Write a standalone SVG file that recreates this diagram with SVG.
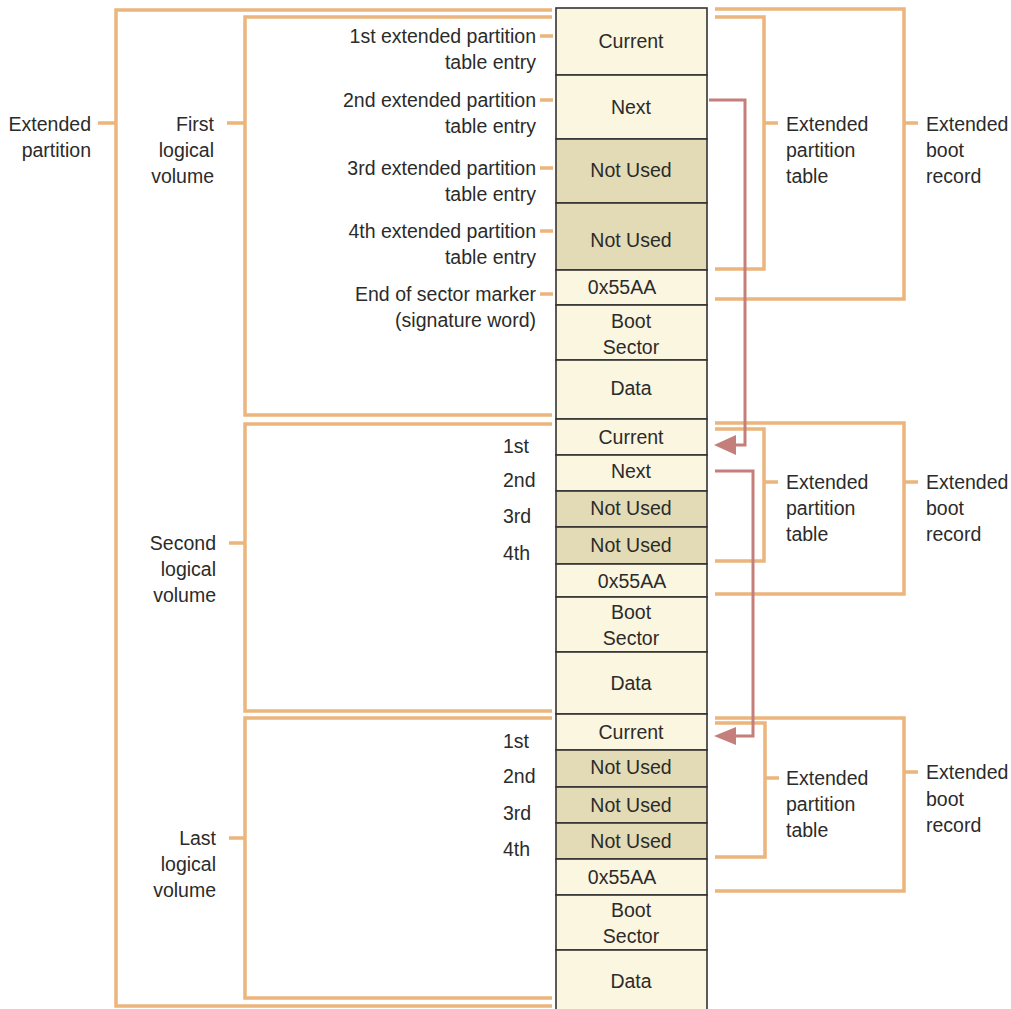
<svg xmlns="http://www.w3.org/2000/svg" width="1011" height="1009" viewBox="0 0 1011 1009">
<style>
text{font-family:"Liberation Sans",Arial,sans-serif;font-size:19.5px;fill:#2b2b2b}
.c{text-anchor:middle}
.r{text-anchor:end}
.cell{fill:#fbf6df;stroke:#333;stroke-width:1.6}
.dk{fill:#e3dbb5;stroke:#333;stroke-width:1.6}
.br{fill:none;stroke:#ebb57c;stroke-width:3.5}
.ar{fill:none;stroke:#c47f7a;stroke-width:3}
.ah{fill:#c47f7a}
</style>
<rect width="1011" height="1009" fill="#fff"/>

<g id="brackets-left">
<path class="br" d="M552,10 H116 V1006 H552 M98,123 H116"/>
<path class="br" d="M552,17 H245 V415 H552 M227,123 H245"/>
<path class="br" d="M552,424 H245 V711 H552 M229,543 H245"/>
<path class="br" d="M552,718 H245 V998 H552 M229,838 H245"/>
<path class="br" d="M540,36 H553 M540,100 H553 M540,168 H553 M540,231 H553 M540,294 H553"/>
</g>

<g id="brackets-right">
<path class="br" d="M715,9 H904 V299 H715 M904,123 H918"/>
<path class="br" d="M715,17 H764 V269 H715 M764,123 H778"/>
<path class="br" d="M715,423 H904 V594 H715 M904,482 H918"/>
<path class="br" d="M715,429 H764 V561 H715 M764,482 H778"/>
<path class="br" d="M715,718 H904 V891 H715 M904,772 H918"/>
<path class="br" d="M715,723 H765 V857 H715 M765,778 H779"/>
</g>

<g id="column">
<g id="v1">
<rect class="cell" x="556" y="8" width="151" height="67"/>
<rect class="cell" x="556" y="75" width="151" height="64"/>
<rect class="dk" x="556" y="139" width="151" height="64"/>
<rect class="dk" x="556" y="203" width="151" height="67"/>
<rect class="cell" x="556" y="270" width="151" height="35"/>
<rect class="cell" x="556" y="305" width="151" height="55"/>
<rect class="cell" x="556" y="360" width="151" height="59"/>
<text class="c" x="631" y="48">Current</text>
<text class="c" x="631" y="114">Next</text>
<text class="c" x="631" y="177">Not Used</text>
<text class="c" x="631" y="247">Not Used</text>
<text class="c" x="622" y="294">0x55AA</text>
<text class="c" x="631" y="328">Boot</text>
<text class="c" x="631" y="354">Sector</text>
<text class="c" x="631" y="395">Data</text>
</g>
<g id="v2">
<rect class="cell" x="556" y="419" width="151" height="36"/>
<rect class="cell" x="556" y="455" width="151" height="36"/>
<rect class="dk" x="556" y="491" width="151" height="36"/>
<rect class="dk" x="556" y="527" width="151" height="37"/>
<rect class="cell" x="556" y="564" width="151" height="33"/>
<rect class="cell" x="556" y="597" width="151" height="55"/>
<rect class="cell" x="556" y="652" width="151" height="62"/>
<text class="c" x="631" y="444">Current</text>
<text class="c" x="631" y="478">Next</text>
<text class="c" x="631" y="515">Not Used</text>
<text class="c" x="631" y="552">Not Used</text>
<text class="c" x="632" y="588">0x55AA</text>
<text class="c" x="631" y="619">Boot</text>
<text class="c" x="631" y="645">Sector</text>
<text class="c" x="631" y="690">Data</text>
</g>
<g id="v3">
<rect class="cell" x="556" y="714" width="151" height="36"/>
<rect class="dk" x="556" y="750" width="151" height="37"/>
<rect class="dk" x="556" y="787" width="151" height="36"/>
<rect class="dk" x="556" y="823" width="151" height="36"/>
<rect class="cell" x="556" y="859" width="151" height="36"/>
<rect class="cell" x="556" y="895" width="151" height="55"/>
<rect class="cell" x="556" y="950" width="151" height="60"/>
<text class="c" x="631" y="739">Current</text>
<text class="c" x="631" y="774">Not Used</text>
<text class="c" x="631" y="812">Not Used</text>
<text class="c" x="631" y="848">Not Used</text>
<text class="c" x="622" y="884">0x55AA</text>
<text class="c" x="631" y="917">Boot</text>
<text class="c" x="631" y="943">Sector</text>
<text class="c" x="631" y="988">Data</text>
</g>
</g>

<g id="connectors">
<path class="ar" d="M709,100 H745 V445 H735"/>
<path class="ar" d="M715,471 H753 V736 H735"/>
<path class="ah" d="M714,445 L736,435 L736,455 Z"/>
<path class="ah" d="M714,736 L736,727 L736,745 Z"/>
</g>

<g id="labels-left">
<text class="r" x="91" y="131">Extended</text>
<text class="r" x="91" y="157">partition</text>
<text class="r" x="214" y="131">First</text>
<text class="r" x="214" y="157">logical</text>
<text class="r" x="214" y="183">volume</text>
<text class="r" x="536" y="43">1st extended partition</text>
<text class="r" x="536" y="69">table entry</text>
<text class="r" x="536" y="107">2nd extended partition</text>
<text class="r" x="536" y="133">table entry</text>
<text class="r" x="536" y="175">3rd extended partition</text>
<text class="r" x="536" y="201">table entry</text>
<text class="r" x="536" y="238">4th extended partition</text>
<text class="r" x="536" y="264">table entry</text>
<text class="r" x="536" y="301">End of sector marker</text>
<text class="r" x="536" y="327">(signature word)</text>
<text x="503" y="453">1st</text>
<text x="503" y="487">2nd</text>
<text x="503" y="523">3rd</text>
<text x="503" y="560">4th</text>
<text class="r" x="216" y="550">Second</text>
<text class="r" x="216" y="576">logical</text>
<text class="r" x="216" y="602">volume</text>
<text x="503" y="748">1st</text>
<text x="503" y="783">2nd</text>
<text x="503" y="820">3rd</text>
<text x="503" y="856">4th</text>
<text class="r" x="216" y="845">Last</text>
<text class="r" x="216" y="871">logical</text>
<text class="r" x="216" y="897">volume</text>
</g>

<g id="labels-right">
<text x="786" y="131">Extended</text>
<text x="786" y="157">partition</text>
<text x="786" y="183">table</text>
<text x="926" y="131">Extended</text>
<text x="926" y="157">boot</text>
<text x="926" y="183">record</text>
<text x="786" y="489">Extended</text>
<text x="786" y="515">partition</text>
<text x="786" y="541">table</text>
<text x="926" y="489">Extended</text>
<text x="926" y="515">boot</text>
<text x="926" y="541">record</text>
<text x="786" y="785">Extended</text>
<text x="786" y="811">partition</text>
<text x="786" y="837">table</text>
<text x="926" y="779">Extended</text>
<text x="926" y="806">boot</text>
<text x="926" y="832">record</text>
</g>
</svg>
